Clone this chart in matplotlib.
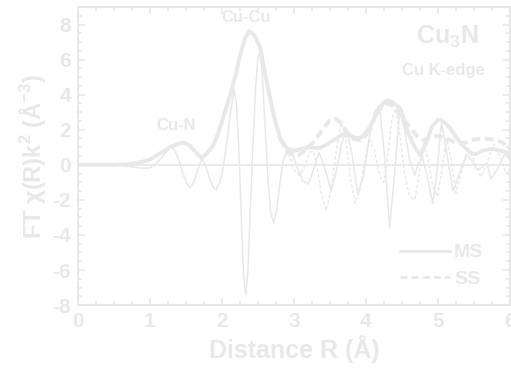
import matplotlib
matplotlib.use("Agg")
import matplotlib.pyplot as plt
from matplotlib.lines import Line2D
from matplotlib.ticker import MultipleLocator

# FT magnitude and imaginary part, MS and SS fits
r_ms_mag = [0.00, 0.50, 0.70, 0.85, 1.00, 1.10, 1.20, 1.30, 1.40, 1.47,
            1.55, 1.63, 1.72, 1.80, 1.88, 1.95, 2.01, 2.07, 2.13, 2.19,
            2.25, 2.32, 2.38, 2.45, 2.53, 2.60, 2.67, 2.74, 2.81, 2.90,
            3.00, 3.10, 3.22, 3.35, 3.45, 3.55, 3.68, 3.78, 3.88, 3.95,
            4.05, 4.15, 4.25, 4.31, 4.38, 4.48, 4.58, 4.68, 4.76, 4.84,
            4.92, 5.00, 5.05, 5.15, 5.25, 5.35, 5.45, 5.52, 5.62, 5.72,
            5.82, 5.92, 6.00]
ms_mag = [0.00, 0.00, 0.03, 0.12, 0.30, 0.55, 0.80, 1.05, 1.20, 1.27,
          1.10, 0.75, 0.38, 0.70, 1.10, 1.80, 2.60, 3.40, 4.20, 5.10,
          6.20, 7.20, 7.62, 7.40, 6.70, 5.20, 3.80, 2.50, 1.50, 0.95,
          0.80, 0.90, 1.00, 0.95, 1.15, 1.40, 1.75, 1.70, 1.50, 1.60,
          2.10, 2.90, 3.55, 3.68, 3.55, 3.20, 1.90, 1.00, 0.55, 1.30,
          2.20, 2.55, 2.55, 2.20, 1.60, 1.10, 0.70, 0.60, 0.80, 0.90,
          0.85, 0.75, 0.65]

r_ms_im = [0.00, 0.40, 0.60, 0.75, 0.90, 1.00, 1.08, 1.16, 1.24, 1.30,
           1.35, 1.40, 1.46, 1.51, 1.56, 1.61, 1.66, 1.72, 1.77, 1.83,
           1.88, 1.92, 1.97, 2.02, 2.07, 2.12, 2.17, 2.20, 2.24, 2.27,
           2.30, 2.33, 2.36, 2.39, 2.43, 2.47, 2.50, 2.53, 2.56, 2.60,
           2.64, 2.68, 2.72, 2.76, 2.80, 2.85, 2.90, 2.95, 3.00, 3.06,
           3.12, 3.20, 3.27, 3.35, 3.43, 3.52, 3.60, 3.66, 3.73, 3.80,
           3.89, 3.97, 4.05, 4.12, 4.19, 4.26, 4.33, 4.40, 4.47, 4.54,
           4.61, 4.68, 4.73, 4.78, 4.85, 4.93, 4.99, 5.05, 5.12, 5.21,
           5.30, 5.40, 5.48, 5.55, 5.62, 5.68, 5.74, 5.82, 5.93, 6.00]
ms_im = [0.00, 0.00, -0.02, -0.12, -0.20, -0.18, 0.05, 0.40, 0.80, 1.00,
         0.80, 0.30, -0.50, -1.05, -1.30, -1.00, -0.35, 0.35, 0.00, -0.80,
         -1.30, -1.40, -1.00, -0.10, 1.30, 3.00, 4.30, 3.60, 0.50, -3.00,
         -6.20, -7.40, -6.20, -3.00, 1.00, 4.50, 6.10, 6.40, 5.20, 2.20,
         -0.80, -2.80, -3.30, -2.60, -1.20, 0.20, 0.75, 0.80, 0.40, -0.30,
         -0.90, -1.10, -0.30, 0.70, -0.20, -1.50, -0.20, 1.20, 2.00, 0.80,
         -1.70, -0.60, 1.60, 3.00, 3.40, 0.50, -3.60, -0.50, 3.10, 2.00,
         0.20, -0.60, 0.10, 0.50, -0.60, -2.20, -0.30, 2.40, 0.80, -1.50,
         -0.50, 0.60, 0.20, -0.30, -0.10, 0.10, -0.80, -0.30, 0.60, 0.30]

# SS curves coincide with MS below ~2.8 A
r_ss_mag = [2.81, 2.90, 3.00, 3.06, 3.15, 3.27, 3.38, 3.50, 3.58, 3.65,
            3.73, 3.82, 3.92, 4.00, 4.10, 4.20, 4.31, 4.40, 4.50, 4.63,
            4.72, 4.80, 4.90, 5.00, 5.10, 5.20, 5.30, 5.40, 5.52, 5.63,
            5.75, 5.90, 6.00]
ss_mag = [1.50, 0.80, 0.55, 0.52, 0.80, 1.30, 1.90, 2.55, 2.62, 2.40,
          1.90, 1.50, 1.40, 1.70, 2.50, 3.20, 3.50, 3.30, 2.70, 2.05,
          1.60, 1.40, 1.55, 1.65, 1.55, 1.35, 1.20, 1.28, 1.45, 1.50,
          1.45, 1.28, 0.90]

r_ss_im = [2.85, 2.90, 2.95, 3.01, 3.08, 3.15, 3.22, 3.27, 3.32, 3.38,
           3.45, 3.52, 3.59, 3.66, 3.72, 3.78, 3.85, 3.92, 3.99, 4.05,
           4.12, 4.19, 4.25, 4.31, 4.36, 4.41, 4.47, 4.54, 4.61, 4.68,
           4.74, 4.80, 4.86, 4.93, 5.00, 5.06, 5.12, 5.18, 5.25, 5.33,
           5.42, 5.51, 5.60, 5.69, 5.78, 5.87, 5.95, 6.00]
ss_im = [0.20, 0.70, 0.40, -0.30, -0.60, -0.10, 0.70, 0.80, 0.00, -1.60,
         -2.60, -1.40, 0.80, 2.40, 1.60, -0.60, -2.20, -1.40, 0.40, 1.40,
         0.80, -0.60, -1.00, 0.60, 2.60, 3.20, 1.80, -0.60, -1.80, -2.00,
         -0.60, 1.20, 0.40, -1.20, -1.80, -0.20, 1.50, 0.40, -1.60, -0.40,
         1.00, 0.20, -0.70, 0.20, 1.20, 0.40, -0.50, -0.30]

col = "#e8e8e8"
plt.rcParams["font.family"] = ["Liberation Sans", "DejaVu Sans"]
plt.rcParams["font.weight"] = "bold"
plt.rcParams["axes.unicode_minus"] = False
plt.rcParams["mathtext.fontset"] = "custom"
plt.rcParams["mathtext.rm"] = "Liberation Sans:bold"
plt.rcParams["mathtext.default"] = "rm"

fig = plt.figure(figsize=(5.11, 3.68), dpi=100)
ax = fig.add_axes([0.1526, 0.171, 0.845, 0.81])

ax.axhline(0, color=col, lw=1.2, zorder=1)
ax.plot(r_ms_im, ms_im, color=col, lw=1.1)
ax.plot(r_ss_im, ss_im, color=col, lw=1.0, ls=(0, (2.5, 1.5)))
ax.plot(r_ms_mag, ms_mag, color=col, lw=2.8)
ax.plot(r_ss_mag, ss_mag, color=col, lw=2.8, ls=(0, (2.2, 1.2)))

ax.set_xlim(0, 6)
ax.set_ylim(-8, 9)
ax.xaxis.set_major_locator(MultipleLocator(1))
ax.xaxis.set_minor_locator(MultipleLocator(0.25))
ax.yaxis.set_minor_locator(MultipleLocator(0.5))
ax.set_yticks([-8, -6, -4, -2, 0, 2, 4, 6, 8])
ax.tick_params(which="both", direction="in", top=True, right=True,
               color=col, width=1.2, labelcolor=col, labelsize=15)
ax.tick_params(which="major", length=5, pad=5)
ax.tick_params(which="minor", length=3)
for s in ax.spines.values():
    s.set_color(col)
    s.set_linewidth(1.5)

ax.set_xlabel("Distance R (Å)", color=col, fontsize=18, fontweight="bold", labelpad=3)
ax.set_ylabel("FT χ(R)k$^{2}$ (Å$^{-3}$)", color=col, fontsize=17, fontweight="bold", labelpad=3)

ax.text(1.37, 2.25, "Cu-N", color=col, fontsize=12, fontweight="bold", ha="center", va="center")
ax.text(2.33, 8.4, "Cu-Cu", color=col, fontsize=12, fontweight="bold", ha="center", va="center")
ax.text(5.13, 7.3, "Cu$_3$N", color=col, fontsize=18, fontweight="bold", ha="center", va="center")
ax.text(5.08, 5.4, "Cu K-edge", color=col, fontsize=12, fontweight="bold", ha="center", va="center")

handles = [Line2D([], [], color=col, lw=2),
           Line2D([], [], color=col, lw=2, ls=(0, (2.5, 1.5)))]
ax.legend(handles, ["MS", "SS"], loc="center left", bbox_to_anchor=(0.745, 0.132),
          frameon=False, handlelength=2.6, handletextpad=0.2, labelspacing=0.45,
          borderpad=0, borderaxespad=0, labelcolor=col,
          prop={"size": 14, "weight": "bold"})

fig.savefig("out.png", dpi=100)
